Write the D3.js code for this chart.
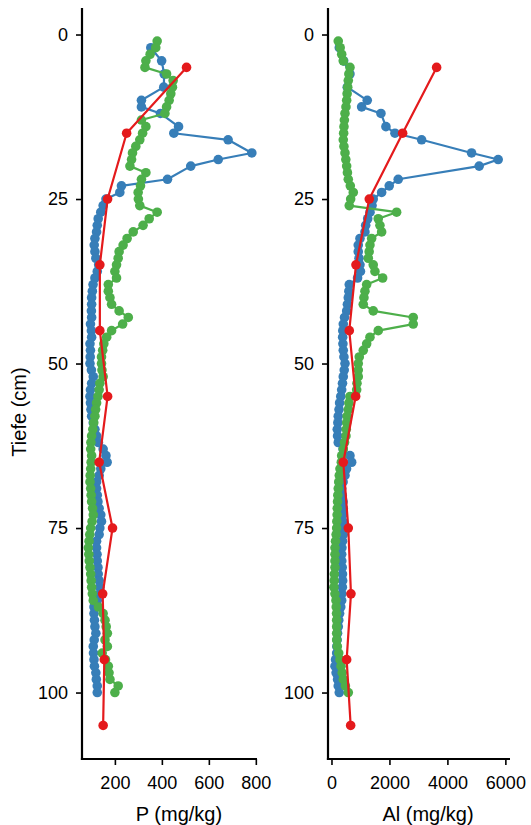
<!DOCTYPE html>
<html><head><meta charset="utf-8">
<script src="https://cdn.jsdelivr.net/npm/d3@7/dist/d3.min.js"></script>
<style>
html,body{margin:0;padding:0;background:#fff;}
svg{display:block;font-family:"Liberation Sans",Arial,Helvetica,sans-serif;}
</style></head>
<body>
<svg id="chart" width="531" height="825"></svg>
<script>
// ---- data ----
const depthBlue = [2,4,6,8,10,11,12,14,15,16,18,19,20,22,23,24,25,26,27,28,29,30,31,32,33,34,35,36,37,38,39,40,41,42,43,44,45,46,47,48,49,50,51,52,53,54,55,56,57,58,59,60,61,62,63,64,65,66,67,68,69,70,71,72,73,74,75,76,77,78,79,80,81,82,83,84,85,86,87,88,89,90,91,92,93,94,95,96,97,98,99,100];
const pBlue = [353,399,410,408,313,313,394,471,451,682,783,640,523,424,228,221,162,150,140,129,125,122,115,112,115,119,131,125,115,107,104,101,101,100,101,96,100,101,94,96,95,94,100,108,101,96,94,96,98,101,108,115,122,130,150,162,167,140,133,122,122,125,128,133,140,143,136,133,122,122,124,125,128,129,133,136,136,125,111,111,113,115,119,112,108,109,111,113,119,121,125,125];
const alBlue = [270,420,638,545,1234,1041,1707,1879,2190,3110,4834,5752,5097,2303,1993,1731,1441,1400,1330,1250,1180,1155,983,924,924,950,983,1000,900,614,600,580,550,524,450,407,390,386,395,407,430,466,440,407,380,352,320,280,260,234,220,200,210,234,400,638,696,520,466,400,352,370,400,407,386,390,400,407,380,360,352,355,370,380,386,375,360,352,320,280,250,234,210,195,185,179,140,121,160,210,234,269];

const depthGreen = [1,2,3,4,5,6,7,8,9,10,11,12,13,14,15,16,17,18,19,20,21,22,23,24,25,26,27,28,29,30,31,32,33,34,35,36,37,38,39,40,41,42,43,44,45,46,47,48,49,50,51,52,53,54,55,56,57,58,59,60,61,62,63,64,65,66,67,68,69,70,71,72,73,74,75,76,77,78,79,80,81,82,83,84,85,86,87,88,89,90,91,92,93,94,95,96,97,98,99,100];
const pGreen = [380,374,350,332,328,420,448,445,438,431,420,413,313,332,318,306,289,275,271,264,332,313,309,299,300,306,380,346,320,278,252,235,218,214,207,200,207,172,172,179,186,218,257,233,186,165,153,148,143,143,145,150,136,133,128,122,118,115,110,106,101,98,97,101,99,97,95,94,97,99,101,105,108,103,97,93,90,87,89,91,94,97,99,101,104,108,130,150,158,163,168,158,168,146,160,172,175,179,214,200];
const alGreen = [234,300,352,407,638,600,580,560,540,524,500,466,445,431,420,407,430,466,495,524,550,580,650,752,662,614,2248,1614,1672,1731,1386,1328,1300,1270,1441,1500,1766,1214,1155,1120,1097,1441,2821,2821,1614,1328,1214,1097,959,924,924,924,880,869,638,600,580,540,524,510,500,450,407,352,340,293,270,250,234,220,210,200,195,185,179,160,140,121,121,121,121,100,95,86,120,155,165,175,179,179,179,179,200,250,293,330,370,407,480,580];

const depthRed = [5,15,25,35,45,55,65,75,85,95,105];
const pRed = [505,250,169,136,136,169,133,190,148,155,150];
const alRed = [3628,2455,1304,845,614,834,407,580,672,524,662];

const depthTicks = [0,25,50,75,100];
const pTicks = [200,400,600,800];
const alTicks = [0,2000,4000,6000];

const colBlue = "#377eb8", colGreen = "#4daf4a", colRed = "#e41a1c";

// ---- layout ----
const svg = d3.select("#chart");
const yTop = 8, yBottom = 759;
const y = d3.scaleLinear().domain([-4.03, 110.1]).range([yTop, yBottom]);

const panels = [
  {x0: 82, x1: 257, domain: [60, 805], ticks: pTicks, title: "P (mg/kg)", titleX: 179,
   series: [[depthBlue, pBlue, colBlue], [depthGreen, pGreen, colGreen], [depthRed, pRed, colRed]]},
  {x0: 328, x1: 510, domain: [-120, 6160], ticks: alTicks, title: "Al (mg/kg)", titleX: 428,
   series: [[depthBlue, alBlue, colBlue], [depthGreen, alGreen, colGreen], [depthRed, alRed, colRed]]}
];

const fontTick = 18;

panels.forEach(pn => {
  const x = d3.scaleLinear().domain(pn.domain).range([pn.x0, pn.x1]);
  const g = svg.append("g");

  pn.series.forEach(([dep, val, col]) => {
    const pts = dep.map((d, i) => [val[i], d]);
    const line = d3.line().x(d => x(d[0])).y(d => y(d[1]));
    g.append("path").datum(pts)
      .attr("fill", "none").attr("stroke", col).attr("stroke-width", 2.2)
      .attr("stroke-linejoin", "round").attr("d", line);
    g.selectAll(null).data(pts).enter().append("circle")
      .attr("cx", d => x(d[0])).attr("cy", d => y(d[1]))
      .attr("r", 4.8).attr("fill", col);
  });

  // axes
  const xAxis = d3.axisBottom(x).tickValues(pn.ticks).tickFormat(d3.format("d"))
    .tickSize(6).tickPadding(11).tickSizeOuter(0);
  const yAxis = d3.axisLeft(y).tickValues(depthTicks).tickFormat(d3.format("d"))
    .tickSize(6).tickPadding(8).tickSizeOuter(0);

  const gx = svg.append("g").attr("transform", `translate(0,${yBottom})`).call(xAxis);
  const gy = svg.append("g").attr("transform", `translate(${pn.x0},0)`).call(yAxis);
  [gx, gy].forEach(a => {
    a.select(".domain").attr("stroke", "#000").attr("stroke-width", 2.2);
    a.selectAll(".tick line").attr("stroke", "#000").attr("stroke-width", 1.6);
    a.selectAll(".tick text").attr("fill", "#000").style("font-size", fontTick + "px")
      .style("font-family", '"Liberation Sans",Arial,sans-serif');
  });
  gx.select(".domain").attr("d", `M${pn.x0 - 1.1},0H${pn.x1}`);
  gy.select(".domain").attr("d", `M0,${yTop}V${yBottom + 1.1}`);

  svg.append("text").attr("x", pn.titleX).attr("y", 821)
    .attr("text-anchor", "middle").style("font-size", "20px").attr("fill", "#000")
    .text(pn.title);
});

svg.append("text")
  .attr("transform", "translate(26,412) rotate(-90)")
  .attr("text-anchor", "middle").style("font-size", "20px").attr("fill", "#000")
  .text("Tiefe (cm)");
</script>
</body></html>
